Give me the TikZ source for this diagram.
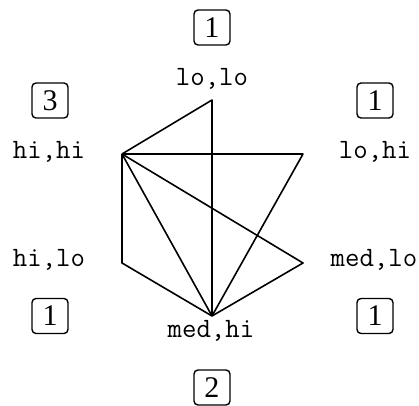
\documentclass[tikz,border=0pt]{standalone}
\usepackage{fontspec}
\setmainfont{Liberation Serif}
\usepackage{tikz}
\usetikzlibrary{positioning}

\tikzset{
  vlabel/.style={font=\ttfamily\fontsize{14}{16}\selectfont, anchor=base, inner sep=0pt},
  countbox/.style={draw, rounded corners=2pt, line width=0.7pt, minimum width=18pt,
    minimum height=17.5pt, inner sep=0pt, font=\fontsize{15}{17}\selectfont},
  edge/.style={line width=0.8pt, line join=round}
}

\begin{document}
\begin{tikzpicture}[x=0.5pt, y=-0.5pt]
  \useasboundingbox (0,0) rectangle (419,406);
  % corners of the hexagon
  \coordinate (ll) at (212,100);
  \coordinate (lh) at (303,154);
  \coordinate (ml) at (303,263);
  \coordinate (mh) at (212,316);
  \coordinate (hl) at (122,263);
  \coordinate (hh) at (122,154);
  % labels
  \node[vlabel] (ll-t) at (212,86) {lo,lo};
  \node[vlabel] (lh-t) at (375,159) {lo,hi};
  \node[vlabel] (ml-t) at (374,267) {med,lo};
  \node[vlabel] (mh-t) at (211,338) {med,hi};
  \node[vlabel] (hl-t) at (49,267) {hi,lo};
  \node[vlabel] (hh-t) at (49,159) {hi,hi};
  % counts
  \node[countbox] (ll-n) at (212,27.5) {1};
  \node[countbox] (lh-n) at (375,100.5) {1};
  \node[countbox] (ml-n) at (375,316) {1};
  \node[countbox] (mh-n) at (212,387.5) {2};
  \node[countbox] (hl-n) at (50,316) {1};
  \node[countbox] (hh-n) at (50,100.5) {3};
  % edges
  \draw[edge] (hh) -- (ll) -- (mh);
  \draw[edge] (hh) -- (lh) -- (mh);
  \draw[edge] (hh) -- (ml) -- (mh);
  \draw[edge] (hh) -- (hl) -- (mh);
  \draw[edge] (hh) -- (mh);
\end{tikzpicture}
\end{document}
